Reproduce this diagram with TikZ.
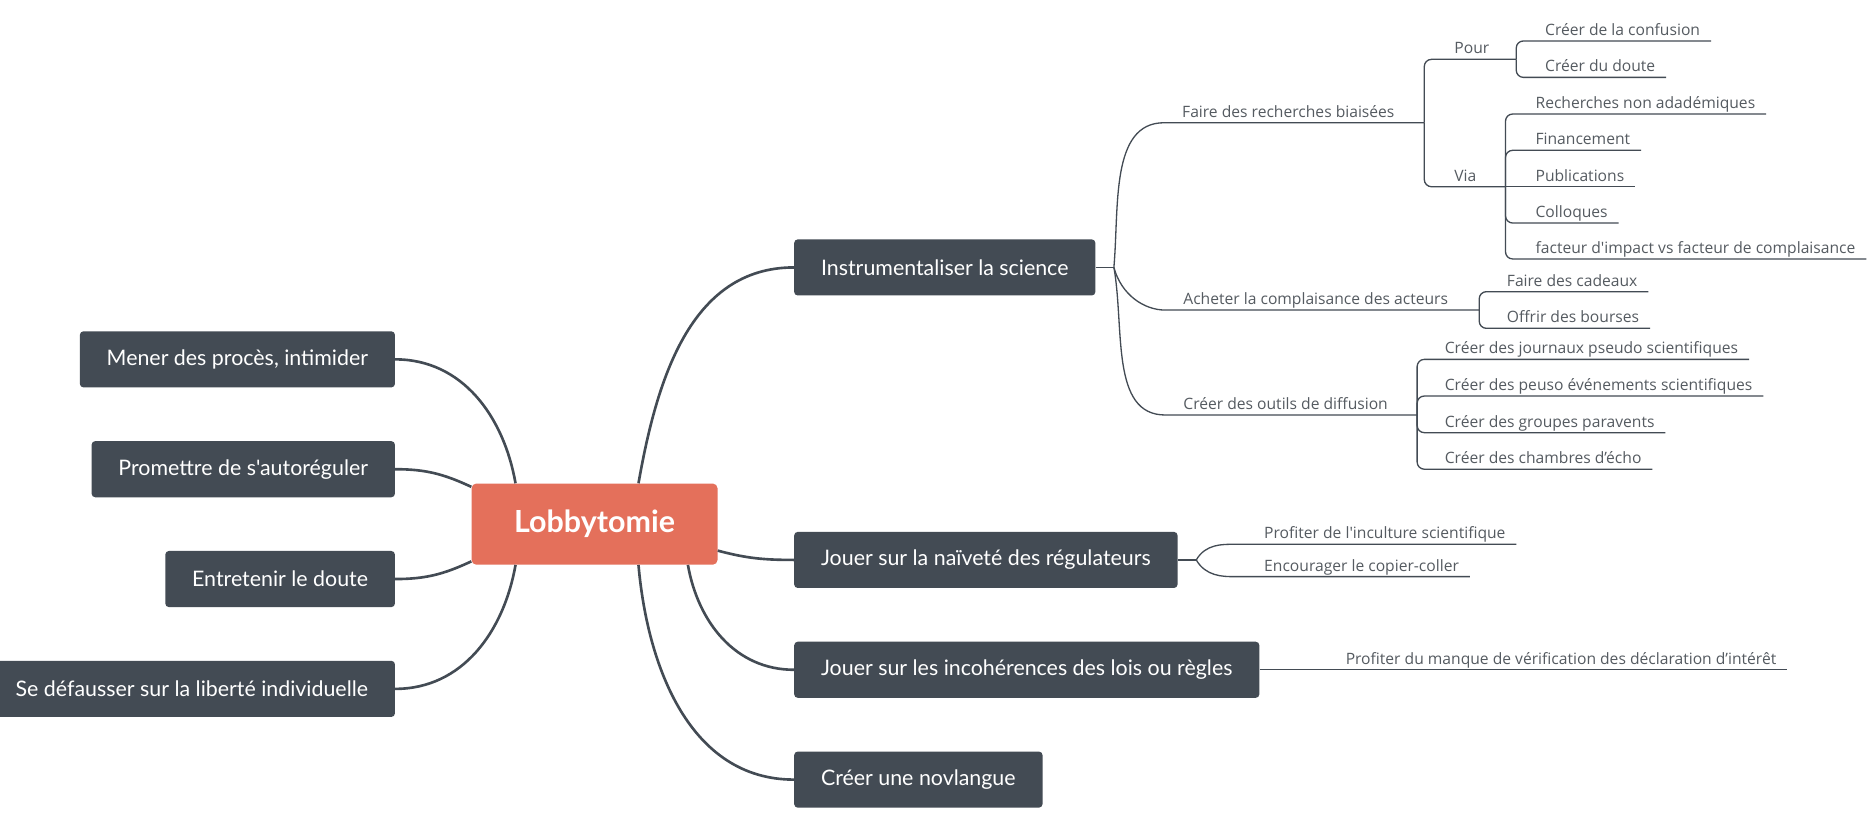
\documentclass[tikz,border=0pt]{standalone}
\usepackage{fontspec}
\setmainfont{Lato}
\newfontfamily\topicfont{Lato}
\newfontfamily\leaffont{Open Sans}
\usepackage{xcolor}
\definecolor{boxgray}{HTML}{434B54}
\definecolor{lobred}{HTML}{E4705B}
\definecolor{leafgray}{HTML}{555B61}

\begin{document}
\begin{tikzpicture}[x=1pt,y=-1pt]
\tikzstyle{root}=[fill=lobred, text=white, font=\fontsize{25.5}{30}\selectfont\bfseries, minimum width=206pt, minimum height=68pt, rounded corners=4pt]
\tikzstyle{topic}=[fill=boxgray, text=white, font=\topicfont\fontsize{17.9}{21}\selectfont, minimum height=47pt, inner xsep=22.5pt, rounded corners=3pt]
\tikzstyle{leaf}=[text=leafgray, font=\leaffont\fontsize{13.1}{15}\selectfont, inner xsep=9pt, inner ysep=1.5pt, text height=9.5pt, text depth=3pt, anchor=south west]
\tikzstyle{trunk}=[draw=boxgray, line width=2.2pt]
\tikzstyle{twig}=[draw=boxgray, line width=1.1pt, rounded corners=6pt]
\fill[white] (0,0) rectangle (1568,691);
\useasboundingbox (0,0) rectangle (1568,691);
% centre
\node[root] (lob) at (498,439) {Lobbytomie};
% left side
\node[topic, anchor=east] (mener) at (331,301) {Mener des procès, intimider};
\node[topic, anchor=east] (prom) at (331,393) {Promettre de s'autoréguler};
\node[topic, anchor=east] (entr) at (331,485) {Entretenir le doute};
\node[topic, anchor=east] (defa) at (331,577) {Se défausser sur la liberté individuelle};
% right side
\node[topic, anchor=west] (instr) at (665,224) {Instrumentaliser la science};
\node[topic, anchor=west] (naiv) at (665,469) {Jouer sur la naïveté des régulateurs};
\node[topic, anchor=west] (incoh) at (665,561) {Jouer sur les incohérences des lois ou règles};
\node[topic, anchor=west] (novl) at (665,653) {Créer une novlangue};
\draw[trunk] ([xshift=37pt]lob.north west) to[out=100,in=0] (mener.east);
\draw[trunk] ([yshift=-3pt]lob.north west) to[out=155,in=0] (prom.east);
\draw[trunk] ([yshift=3pt]lob.south west) to[out=205,in=0] (entr.east);
\draw[trunk] ([xshift=37pt]lob.south west) to[out=260,in=0] (defa.east);
\draw[trunk] ([xshift=140pt]lob.north west) to[out=80,in=180] (instr.west);
\draw[trunk] ([yshift=12pt]lob.south east) to[out=-15,in=180] (naiv.west);
\draw[trunk] ([xshift=-25pt]lob.south east) to[out=-80,in=180] (incoh.west);
\draw[trunk] ([xshift=140pt]lob.south west) to[out=-85,in=180] (novl.west);
% science branch
\coordinate (instr-j) at (933,224);
\node[leaf] (faire) at (981,102.8) {Faire des recherches biaisées};
\coordinate (faire-j) at (1193,102.8);
\node[leaf] (pour) at (1209,49.7) {Pour};
\coordinate (pour-j) at (1270,49.7);
\node[leaf] (conf) at (1285,34.3) {Créer de la confusion};
\node[leaf] (doute) at (1285,64.8) {Créer du doute};
\node[leaf] (via) at (1209,156.4) {Via};
\coordinate (via-j) at (1261,156.4);
\node[leaf] (rna) at (1277,95.5) {Recherches non adadémiques};
\node[leaf] (fin) at (1277,125.9) {Financement};
\node[leaf] (pub) at (1277,156.4) {Publications};
\node[leaf] (coll) at (1277,186.8) {Colloques};
\node[leaf] (fact) at (1277,216.9) {facteur d'impact vs facteur de complaisance};
\node[leaf] (ach) at (982,259.7) {Acheter la complaisance des acteurs};
\coordinate (ach-j) at (1239,259.7);
\node[leaf] (cad) at (1253,244.3) {Faire des cadeaux};
\node[leaf] (bour) at (1253,275) {Offrir des bourses};
\node[leaf] (outil) at (982,347.6) {Créer des outils de diffusion};
\coordinate (outil-j) at (1187,347.6);
\node[leaf] (journ) at (1201,301) {Créer des journaux pseudo scientifiques};
\node[leaf] (peuso) at (1201,331.7) {Créer des peuso événements scientifiques};
\node[leaf] (grp) at (1201,362.4) {Créer des groupes paravents};
\node[leaf] (cham) at (1201,393) {Créer des chambres d’écho};
\draw[twig] (instr.east) -- (instr-j);
\draw[twig] (instr-j) to[out=85,in=180] (faire.south west) -- (faire-j);
\draw[twig] (instr-j) to[out=-75,in=180] (ach.south west) -- (ach-j);
\draw[twig] (instr-j) to[out=-80,in=180] (outil.south west) -- (outil-j);
\draw[twig] (faire-j) |- (pour-j);
\draw[twig] (faire-j) |- (via-j);
\draw[twig] (pour-j) |- (conf.south east);
\draw[twig] (pour-j) |- (doute.south east);
\draw[twig] (via-j) |- (rna.south east);
\draw[twig] (via-j) |- (fin.south east);
\draw[twig] (via-j) -- (pub.south east);
\draw[twig] (via-j) |- (coll.south east);
\draw[twig] (via-j) |- (fact.south east);
\draw[twig] (ach-j) |- (cad.south east);
\draw[twig] (ach-j) |- (bour.south east);
\draw[twig] (outil-j) |- (journ.south east);
\draw[twig] (outil-j) |- (peuso.south east);
\draw[twig] (outil-j) |- (grp.south east);
\draw[twig] (outil-j) |- (cham.south east);
% regulators branch
\coordinate (naiv-j) at (1002,469);
\node[leaf] (inc) at (1049.7,455.9) {Profiter de l'inculture scientifique};
\node[leaf] (copi) at (1049.7,483) {Encourager le copier-coller};
\draw[twig] (naiv.east) -- (naiv-j);
\draw[twig] (naiv-j) to[out=60,in=180] ([xshift=-10pt]inc.south west) -- (inc.south east);
\draw[twig] (naiv-j) to[out=-60,in=180] ([xshift=-10pt]copi.south west) -- (copi.south east);
% rules branch
\node[leaf] (verif) at (1118,561) {Profiter du manque de vérification des déclaration d’intérêt};
\draw[twig] (incoh.east) -- (verif.south east);
\end{tikzpicture}
\end{document}
